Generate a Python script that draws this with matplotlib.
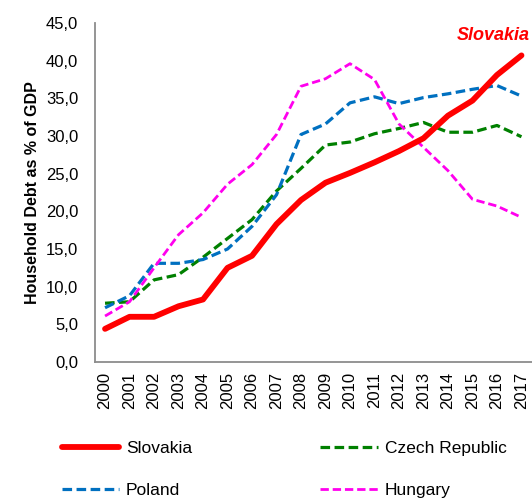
import matplotlib
matplotlib.use("Agg")
import matplotlib.pyplot as plt
import numpy as np

plt.rcParams['font.family'] = ['Liberation Sans', 'DejaVu Sans']

years = [str(y) for y in range(2000, 2018)]
slovakia = [4.4, 6.0, 6.0, 7.4, 8.3, 12.5, 14.1, 18.3, 21.5, 23.8, 25.1, 26.5, 28.0, 29.7, 32.7, 34.7, 38.1, 40.7]
czech = [7.8, 8.0, 10.9, 11.6, 13.9, 16.4, 18.9, 22.7, 25.7, 28.8, 29.2, 30.3, 31.0, 31.8, 30.5, 30.5, 31.4, 29.9]
poland = [7.2, 8.8, 13.1, 13.1, 13.6, 15.0, 18.0, 22.2, 30.2, 31.6, 34.4, 35.2, 34.3, 35.1, 35.6, 36.2, 36.7, 35.3]
hungary = [6.1, 8.0, 12.5, 16.9, 19.8, 23.6, 26.2, 30.2, 36.6, 37.6, 39.6, 37.5, 31.6, 28.5, 25.4, 21.6, 20.7, 19.2]
yticks = np.arange(0, 46, 5)

fig = plt.figure(figsize=(5.32, 5.0), dpi=100)
ax = fig.add_axes([95/532, 1-362/500, 1-95/532, (362-23)/500])
x = np.arange(len(years))

dash = (3, 1.4)
l_cz, = ax.plot(x, czech, color='#008000', lw=2.3, dashes=dash, label='Czech Republic')
l_pl, = ax.plot(x, poland, color='#0070C0', lw=2.3, dashes=dash, label='Poland')
l_hu, = ax.plot(x, hungary, color='#FF00EE', lw=2.0, dashes=dash, label='Hungary')
l_sk, = ax.plot(x, slovakia, color='#FF0000', lw=4.2, solid_capstyle='round', label='Slovakia')

ax.set_ylim(0, 45)
ax.set_xlim(-0.41, 17.43)
ax.set_yticks(yticks)
ax.set_yticklabels([f"{v:.1f}".replace('.', ',') for v in yticks], fontsize=12)
ax.set_xticks(x)
ax.set_xticklabels(years, rotation=90, fontsize=12)
ax.tick_params(axis='y', length=0, pad=12)
ax.tick_params(axis='x', length=0, pad=7)
for s in ['top', 'right']:
    ax.spines[s].set_visible(False)
for s in ['left', 'bottom']:
    ax.spines[s].set_color('#8c8c8c')
    ax.spines[s].set_linewidth(1.3)

ax.set_ylabel('Household Debt as % of GDP', fontsize=11.5, fontweight='bold', labelpad=4)
ax.text(17.35, 43.3, 'Slovakia', color='#FF0000', fontsize=13, fontweight='bold',
        fontstyle='italic', ha='right', va='center')

fig.legend(handles=[l_sk, l_pl, l_cz, l_hu], ncol=2, loc='upper left',
           bbox_to_anchor=(46/532, 1-425/500), frameon=False, fontsize=12.5,
           handlelength=3.3, handletextpad=0.4, columnspacing=7.4, labelspacing=1.58)

fig.savefig('out.png', dpi=100)
